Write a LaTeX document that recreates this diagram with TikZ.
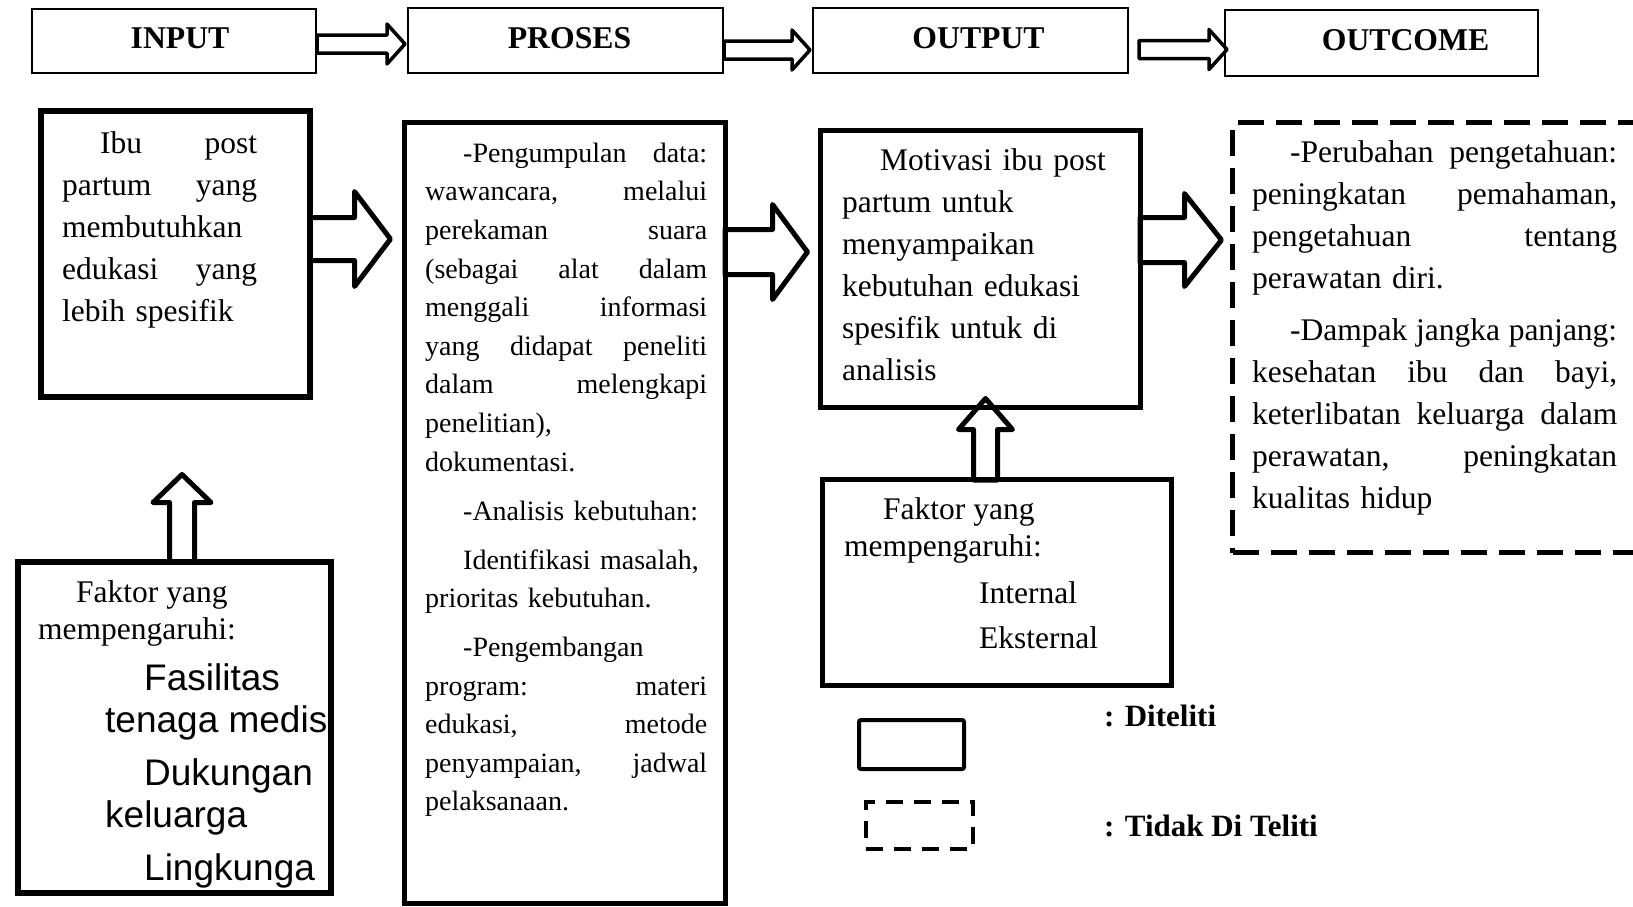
\documentclass[tikz,border=0pt]{standalone}
\usepackage{fontspec}
\setmainfont{Liberation Serif}
\newfontfamily\arialfont{Liberation Sans}
\usetikzlibrary{calc}
\hyphenpenalty=10000
\exhyphenpenalty=10000

\tikzset{
  headbox/.style={draw,line width=1.6pt,text depth=6pt,font=\fontsize{31.7}{37}\selectfont\bfseries},
  bigbox/.style={draw,line width=5pt},
  dashbox/.style={draw,line width=5pt,dash pattern=on 26pt off 12pt},
  bodytext/.style={anchor=north west,inner sep=0pt,align=left,
    font=\fontsize{31.5}{42}\selectfont},
  legtext/.style={anchor=base west,inner sep=0pt,font=\fontsize{31}{37}\selectfont\bfseries},
  hollow/.style={draw,line width=5pt,line join=round},
  rblock/.style args={#1/#2/#3}{to path={let \p1=(\tikztostart),\p2=(\tikztotarget) in
    (\x1,\y1+#1) -- (\x2-#3,\y1+#1) -- (\x2-#3,\y1+#2) -- (\x2,\y1)
    -- (\x2-#3,\y1-#2) -- (\x2-#3,\y1-#1) -- (\x1,\y1-#1) -- cycle}},
  ublock/.style args={#1/#2/#3}{to path={let \p1=(\tikztostart),\p2=(\tikztotarget) in
    (\x1-#1,\y1) -- (\x1-#1,\y2-#3) -- (\x1-#2,\y2-#3) -- (\x1,\y2)
    -- (\x1+#2,\y2-#3) -- (\x1+#1,\y2-#3) -- (\x1+#1,\y1) -- cycle}}
}

\begin{document}
\begin{tikzpicture}[x=1pt,y=-1pt]
\useasboundingbox (0,0) rectangle (1633,906);
\fill[white] (0,0) rectangle (1633,906);

% top row
\node (inp) at (174,41) [headbox,minimum width=284.4pt,minimum height=64.4pt] {\hspace*{12pt}INPUT};
\node (pro) at (565.5,40.5) [headbox,minimum width=315.4pt,minimum height=65.4pt] {\hspace*{8pt}PROSES};
\node (outp) at (970.5,40.5) [headbox,minimum width=315.4pt,minimum height=65.4pt] {\hspace*{16pt}OUTPUT};
\node (outc) at (1381.5,43) [headbox,minimum width=313.4pt,minimum height=66.4pt] {\hspace*{48pt}OUTCOME};
\draw[hollow,line width=3.5pt,rblock={9pt/20pt/18pt}] ([yshift=-3pt]inp.east) to ([xshift=-2pt]pro.west);
\draw[hollow,line width=3.5pt,rblock={9pt/20pt/18pt}] ([yshift=-9.5pt]pro.east) to ([xshift=-2pt]outp.west);
\draw[hollow,line width=3.5pt,rblock={9pt/20pt/18pt}] ([xshift=10pt,yshift=-9pt]outp.east) to ([xshift=3pt]outc.west);

% boxes
\node (boxA) at (175.5,254) [bigbox,line width=6pt,minimum width=269pt,minimum height=286pt] {};
\node (boxB) at (565,513) [bigbox,minimum width=321pt,minimum height=781pt] {};
\node (boxC) at (980.5,269) [bigbox,minimum width=320pt,minimum height=277pt] {};
\node (boxD) at (1446.25,337.5) [dashbox,minimum width=427.5pt,minimum height=430pt] {};
\node (boxE) at (174.5,727.5) [bigbox,line width=6pt,minimum width=313pt,minimum height=331pt] {};
\node (boxF) at (997,582.5) [bigbox,minimum width=349pt,minimum height=206pt] {};

% block arrows
\draw[hollow,rblock={21.5pt/47.5pt/36pt}] ([xshift=-3pt,yshift=15pt]boxA.east) to ([xshift=-11.5pt]boxB.west);
\draw[hollow,rblock={22.5pt/47.5pt/35pt}] ([xshift=-3pt,yshift=261pt]boxB.east) to ([xshift=-10.5pt]boxC.west);
\draw[hollow,rblock={22.5pt/46.5pt/37pt}] ([xshift=-3pt,yshift=29pt]boxC.east) to ([xshift=-8.5pt]boxD.west);
\draw[hollow,ublock={12.5pt/29pt/28pt}] ([xshift=7.5pt,yshift=-3pt]boxE.north) to ([yshift=-74.5pt]boxA.south);
\draw[hollow,ublock={12pt/27pt/31pt}] ([xshift=-11.5pt,yshift=-3pt]boxF.north) to ([yshift=11.5pt]boxC.south);

% texts
\node (txtA) at (62,123.6) [bodytext,text width=195pt] {\strut\hspace*{38pt}Ibu\hfill post\\
partum\hfill yang\\
membutuhkan\\
edukasi\hfill yang\\
lebih spesifik};
\node (txtB) at (425,135) [bodytext,text width=282pt,font=\fontsize{28}{38.6}\selectfont] {\strut\hspace*{38pt}-Pengumpulan\hfill data:\\
wawancara,\hfill melalui\\
perekaman\hfill suara\\
(sebagai\hfill alat\hfill dalam\\
menggali\hfill informasi\\
yang\hfill didapat\hfill peneliti\\
dalam\hfill melengkapi\\
penelitian),\\
dokumentasi.\\[11pt]
\hspace*{38pt}-Analisis kebutuhan:\\[10pt]
\hspace*{38pt}Identifikasi masalah,\\
prioritas kebutuhan.\\[10pt]
\hspace*{38pt}-Pengembangan\\
program:\hfill materi\\
edukasi,\hfill metode\\
penyampaian,\hfill jadwal\\
pelaksanaan.};
\node (txtC) at (842,140.6) [bodytext,text width=300pt] {\strut\hspace*{38pt}Motivasi ibu post\\
partum untuk\\
menyampaikan\\
kebutuhan edukasi\\
spesifik untuk di\\
analisis};
\node (txtD) at (1252,132.6) [bodytext,text width=365pt] {\strut\hspace*{38pt}-Perubahan\hfill pengetahuan:\\
peningkatan\hfill pemahaman,\\
pengetahuan\hfill tentang\\
perawatan diri.\\[10pt]
\hspace*{38pt}-Dampak\hfill jangka\hfill panjang:\\
kesehatan\hfill ibu\hfill dan\hfill bayi,\\
keterlibatan\hfill keluarga\hfill dalam\\
perawatan,\hfill peningkatan\\
kualitas hidup};
\node (txtE) at (38,576.1) [bodytext,font=\fontsize{31.5}{37}\selectfont] {\strut\hspace*{38pt}Faktor yang\\
mempengaruhi:};
\node (listE) at (105,660.6) [bodytext,font=\arialfont\fontsize{37}{42}\selectfont] {\strut\hspace*{39pt}Fasilitas\\
tenaga medis\\[11pt]
\hspace*{39pt}Dukungan\\
keluarga\\[11pt]
\hspace*{39pt}Lingkunga};
\node (txtF) at (844,493.1) [bodytext,font=\fontsize{31.5}{37}\selectfont] {\strut\hspace*{39pt}Faktor yang\\
mempengaruhi:\\[10pt]
\hspace*{135pt}Internal\\[8pt]
\hspace*{135pt}Eksternal};

% legend
\node (legA) at (911.5,744.5) [draw,line width=4pt,rounded corners=2pt,minimum width=105pt,minimum height=49pt] {};
\node (legB) at (919.5,825.5) [draw,line width=4pt,dash pattern=on 17pt off 11pt,minimum width=107pt,minimum height=47pt] {};
\node (labA) at (1104,726) [legtext] {: Diteliti};
\node (labB) at (1104,836) [legtext] {: Tidak Di Teliti};
\end{tikzpicture}
\end{document}
